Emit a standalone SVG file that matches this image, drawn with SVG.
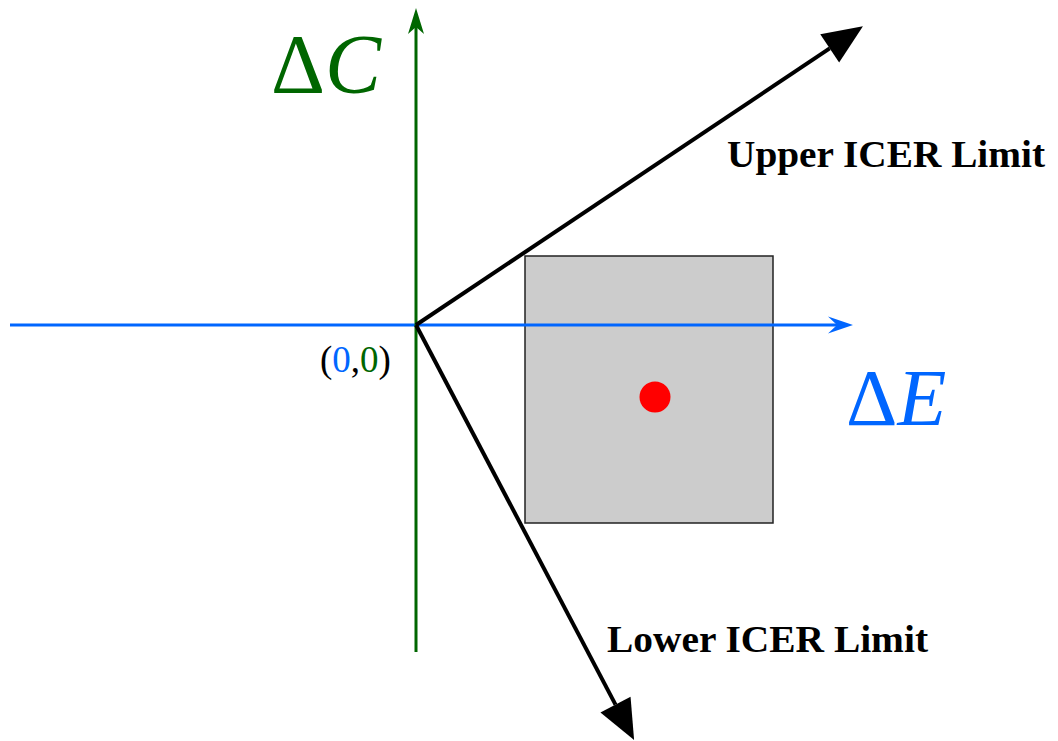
<svg xmlns="http://www.w3.org/2000/svg" width="1058" height="741" viewBox="0 0 1058 741">
  <style>
    .lbl { font-family: 'Liberation Serif', serif; font-weight: bold; font-size: 38px; fill: #000; }
    .math { font-family: 'Liberation Serif', serif; }
    .green { fill: #006600; }
    .blue { fill: #0066ff; }
  </style>
  <defs>
    <marker id="bigHead" markerUnits="userSpaceOnUse" markerWidth="50" markerHeight="50" refX="0" refY="0" orient="auto" overflow="visible">
      <path d="M40,0 L0,-17 L0,17 Z" fill="#000"/>
    </marker>
  </defs>
  <rect width="1058" height="741" fill="#fff"/>

  <g id="region">
    <rect x="525" y="256" width="248" height="267" fill="#cccccc" stroke="#222" stroke-width="1.5"/>
  </g>

  <g id="point">
    <circle cx="655" cy="397" r="15.5" fill="#ff0000"/>
  </g>

  <g id="connectors">
    <g id="axis-e">
      <line x1="10" y1="325" x2="838" y2="325" stroke="#0066ff" stroke-width="3"/>
      <path d="M853,325 L828,316.5 L837,325 L828,333.5 Z" fill="#0066ff"/>
    </g>
    <g id="axis-c">
      <line x1="416" y1="652" x2="416" y2="26" stroke="#006600" stroke-width="3"/>
      <path d="M416,8 L408,34 L416,27 L424,34 Z" fill="#006600"/>
    </g>
    <g id="upper-limit">
      <line x1="416" y1="325" x2="829.7" y2="48.4" stroke="#000" stroke-width="4" marker-end="url(#bigHead)"/>
    </g>
    <g id="lower-limit">
      <line x1="416" y1="325" x2="615.5" y2="704.6" stroke="#000" stroke-width="4" marker-end="url(#bigHead)"/>
    </g>
  </g>

  <g id="label-dc">
    <text class="math green" x="271" y="93" font-size="84">Δ<tspan font-style="italic">C</tspan></text>
  </g>
  <g id="label-de">
    <text class="math blue" x="846" y="425" font-size="80">Δ<tspan font-style="italic">E</tspan></text>
  </g>
  <g id="label-origin">
    <text class="math" x="320" y="372" font-size="37" fill="#000">(<tspan class="blue">0</tspan>,<tspan class="green">0</tspan>)</text>
  </g>
  <g id="label-upper">
    <text class="lbl" x="727" y="167" textLength="318" lengthAdjust="spacingAndGlyphs">Upper ICER Limit</text>
  </g>
  <g id="label-lower">
    <text class="lbl" x="607" y="652" textLength="321" lengthAdjust="spacingAndGlyphs">Lower ICER Limit</text>
  </g>
</svg>
